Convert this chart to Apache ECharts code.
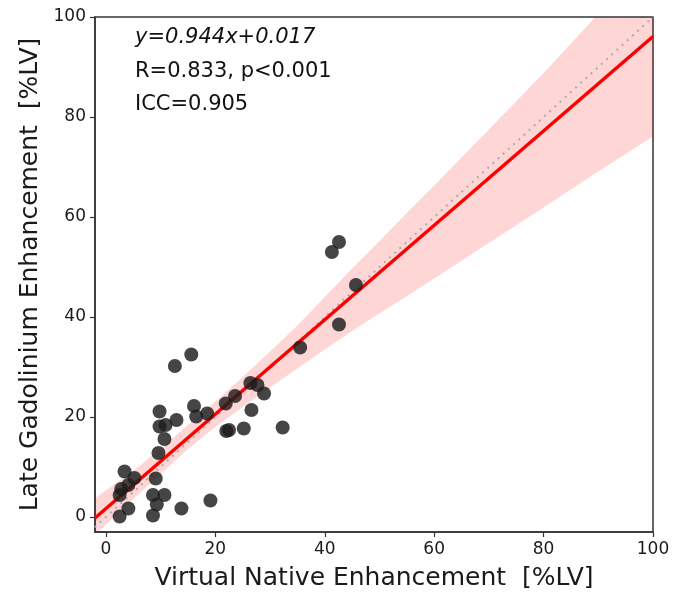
<!DOCTYPE html>
<html>
<head>
<meta charset="utf-8">
<script src="https://cdn.jsdelivr.net/npm/echarts@6/dist/echarts.min.js"></script>
<style>
  body { margin: 0; background: #fff; }
  #chart { width: 678px; height: 592px; }
</style>
</head>
<body>
<div id="chart"></div>
<script>
  // scatter points: VNE (x) vs LGE (y), %LV
  var vne = [2.5, 4.1, 3.4, 5.2, 2.5, 2.8, 4.1, 9.1, 9.6, 10.7, 8.6, 10.7, 9.3, 8.6, 13.8, 19.1,
    15.6, 12.6, 16.1, 9.8, 16.5, 18.5, 12.9, 9.8, 10.9, 21.9, 23.6, 26.4, 27.7, 28.9, 26.6,
    22.0, 22.5, 25.2, 32.3, 42.6, 41.3, 45.7, 42.6, 35.5];
  var lge = [0.1, 1.7, 9.1, 7.8, 4.4, 5.6, 6.4, 7.7, 12.8, 15.6, 4.4, 4.4, 2.5, 0.3, 1.7, 3.3,
    32.5, 30.2, 22.2, 21.1, 20.1, 20.7, 19.4, 18.1, 18.4, 22.7, 24.2, 26.8, 26.4, 24.7, 21.4,
    17.2, 17.4, 17.7, 17.9, 55.0, 53.0, 46.4, 38.5, 33.9];

  // fitted line ends and identity line ends
  var fitX = [-2, 100];
  var fitY = [-0.2, 96.1];
  var idX = [-3, 100];
  var idY = [-3, 100];

  // confidence band edges
  var bandX = [-2, 5, 10, 15, 20, 25, 30, 35, 40, 45, 50, 55, 60, 70, 80, 90, 100];
  var bandUpper = [3.8, 9.2, 13.7, 18.4, 23.1, 28.0, 33.1, 38.3, 44.0, 49.7, 55.2, 60.8, 66.3, 77.5, 88.8, 100.6, 112.0];
  var bandLower = [-3.5, 3.6, 8.6, 13.6, 18.0, 22.0, 25.9, 29.7, 33.5, 37.2, 40.7, 44.2, 47.7, 54.8, 61.9, 69.1, 76.1];

  var ticks = [0, 20, 40, 60, 80, 100];

  var notes = ['y=0.944x+0.017', 'R=0.833, p<0.001', 'ICC=0.905'];

  var font = 'DejaVu Sans';
  var chart = echarts.init(document.getElementById('chart'));

  var points = [];
  for (var i = 0; i < vne.length; i++) {
    points.push([vne[i], lge[i]]);
  }

  var axisCommon = {
    type: 'value',
    splitLine: { show: false },
    axisLine: { show: true, onZero: false, lineStyle: { color: '#333', width: 1.5 } },
    axisTick: { show: true, inside: false, length: 5, customValues: ticks, lineStyle: { color: '#333', width: 1.2 } },
    axisLabel: { customValues: ticks, fontSize: 17, color: '#1a1a1a', fontFamily: font, margin: 9 },
    nameLocation: 'middle',
    nameTextStyle: { fontSize: 25, color: '#1a1a1a', fontFamily: font }
  };

  var option = {
    animation: false,
    grid: {
      left: 95, right: 25, top: 17, bottom: 60,
      outerBoundsMode: 'none',
      show: true, borderColor: '#333', borderWidth: 1.5
    },
    xAxis: Object.assign({}, axisCommon, {
      min: -2, max: 100,
      name: 'Virtual Native Enhancement  [%LV]',
      nameGap: 34
    }),
    yAxis: Object.assign({}, axisCommon, {
      min: -3, max: 100,
      name: 'Late Gadolinium Enhancement  [%LV]',
      nameGap: 47
    }),
    graphic: [
      { type: 'text', left: 135, top: 27, style: { text: notes[0], fontSize: 21, fontStyle: 'italic', fontFamily: font, fill: '#111' } },
      { type: 'text', left: 135, top: 61, style: { text: notes[1], fontSize: 21, fontFamily: font, fill: '#111' } },
      { type: 'text', left: 135, top: 94, style: { text: notes[2], fontSize: 21, fontFamily: font, fill: '#111' } }
    ],
    series: [
      {
        type: 'custom',
        z: 1,
        silent: true,
        data: bandX.map(function (x, i) { return [x, bandUpper[i], bandLower[i]]; }),
        renderItem: function (params, api) {
          if (params.dataIndex > 0) return;
          var pts = [];
          for (var k = 0; k < bandX.length; k++) pts.push(api.coord([bandX[k], bandUpper[k]]));
          for (var k2 = bandX.length - 1; k2 >= 0; k2--) pts.push(api.coord([bandX[k2], bandLower[k2]]));
          var cs = params.coordSys;
          return {
            type: 'polygon',
            shape: { points: pts },
            style: { fill: 'rgba(255,0,0,0.16)' },
            clipPath: { type: 'rect', shape: { x: cs.x, y: cs.y, width: cs.width, height: cs.height } }
          };
        }
      },
      {
        type: 'line',
        z: 2,
        data: [[idX[0], idY[0]], [idX[1], idY[1]]],
        symbol: 'none',
        lineStyle: { color: '#aaa', width: 2, type: [2, 5] }
      },
      {
        type: 'line',
        z: 3,
        data: [[fitX[0], fitY[0]], [fitX[1], fitY[1]]],
        symbol: 'none',
        lineStyle: { color: '#ff0000', width: 3.5 }
      },
      {
        type: 'scatter',
        z: 4,
        data: points,
        symbolSize: 14,
        itemStyle: { color: '#1c1c1c', opacity: 0.82 }
      }
    ]
  };

  chart.setOption(option);
</script>
</body>
</html>
